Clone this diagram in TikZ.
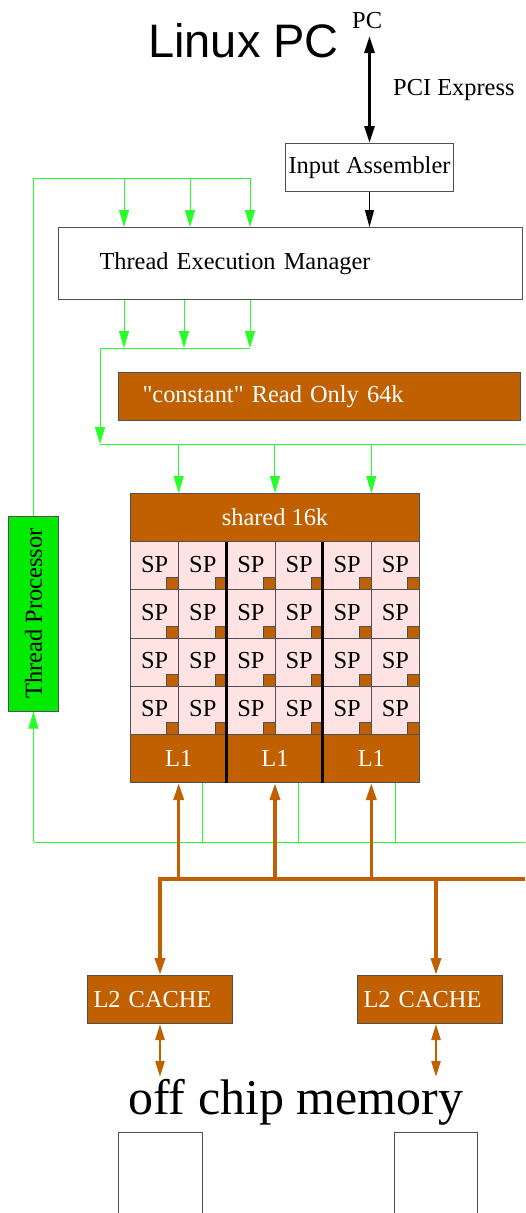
\documentclass[tikz,border=0pt]{standalone}
\usepackage{fontspec}
\setmainfont{Liberation Serif}
\newfontfamily\linuxsans{Liberation Sans}
\newfontfamily\rawserif{Liberation Serif}
\usetikzlibrary{arrows.meta,calc}
\definecolor{orng}{RGB}{192,96,0}
\definecolor{grn}{RGB}{40,255,40}
\definecolor{tpgreen}{RGB}{0,235,0}
\definecolor{spink}{RGB}{255,226,226}
\definecolor{bord}{RGB}{80,80,80}
\begin{document}
\begin{tikzpicture}[x=1pt,y=-1pt,
  txt/.style={font=\fontsize{24.4}{28}\selectfont},
  tlabel/.style={txt,inner sep=0pt,anchor=base west},
  box/.style={draw=bord,line width=1pt,inner sep=0pt,txt},
  obox/.style={box,fill=orng,text=white},
  gline/.style={draw=grn,line width=1pt},
  garrow/.style={gline,-{Triangle[length=17pt,width=10pt]}},
  oline/.style={draw=orng,line width=3.5pt},
  oarrow/.style={oline,-{Triangle[length=17pt,width=10pt]}},
  odarrow/.style={draw=orng,line width=2.5pt,{Triangle[length=16pt,width=9pt]}-{Triangle[length=16pt,width=9pt]}},
  karrow/.style={draw=black,line width=1pt,-{Triangle[length=17pt,width=9pt]}},
  kdarrow/.style={draw=black,line width=3pt,{Triangle[length=17pt,width=10pt]}-{Triangle[length=17pt,width=10pt]}},
  spcell/.style={box,fill=spink,minimum width=48.17pt,minimum height=48.25pt},
  spsq/.style={draw=bord,line width=0.8pt,fill=orng,minimum size=12pt,inner sep=0pt},
]
\useasboundingbox (0,0) rectangle (525,1213);

% titles
\node[font=\linuxsans\fontsize{47}{50}\selectfont,inner sep=0pt,anchor=base west] (linux) at (148,57) {Linux PC};
\node[tlabel] (pc) at (352,28) {PC};
\node[tlabel] (pcie) at (393,95) {PCI Express};

% boxes
\node[box,minimum width=168pt,minimum height=48pt,anchor=north west] (ia) at (285,143) {Input Assembler};
\node[box,minimum width=464pt,minimum height=72pt,anchor=north west,text width=382pt,align=left] (tem) at (58,227) {Thread Execution Manager};
\node[obox,minimum width=402pt,minimum height=48pt,anchor=north west,text width=354pt,align=left] (const) at (118,372) {{\rawserif"}constant{\rawserif"} Read Only 64k};
\node[box,fill=tpgreen,rotate=90,minimum width=195pt,minimum height=50pt] (tp) at (33.5,613.5) {Thread Processor};
\node[obox,minimum width=289pt,minimum height=48pt,anchor=north west] (shared) at (130,493) {shared 16k};

% SP grid
\foreach \g in {0,1,2} {
  \pgfmathsetmacro\gx{130+\g*96.33}
  \node[obox,minimum width=96.33pt,minimum height=48pt,anchor=north west] (l1-\g) at (\gx,734) {L1};
  \foreach \c in {0,1} {
    \foreach \r in {0,1,2,3} {
      \pgfmathsetmacro\cx{\gx+\c*48.17}
      \pgfmathsetmacro\cy{541+\r*48.25}
      \node[spcell,anchor=north west] (sp-\g-\c-\r) at (\cx,\cy) {\raisebox{3pt}{SP}};
      \node[spsq,anchor=south east] (sq-\g-\c-\r) at (sp-\g-\c-\r.south east) {};
    }
  }
}
\draw[line width=3pt] (l1-1.south west) -- (l1-1.south west |- shared.south);
\draw[line width=3pt] (l1-2.south west) -- (l1-2.south west |- shared.south);

% L2 caches and memory
\node[obox,minimum width=145pt,minimum height=48pt,anchor=north west,text width=133pt,align=left] (l2a) at (87,975) {L2 CACHE};
\node[obox,minimum width=145pt,minimum height=48pt,anchor=north west,text width=133pt,align=left] (l2b) at (357,975) {L2 CACHE};
\node[font=\fontsize{50}{55}\selectfont,inner sep=0pt,anchor=base west] (ocm) at (128,1114) {off chip memory};
\node[box,minimum width=84pt,minimum height=100pt,anchor=north west] (mem1) at (118,1132) {};
\node[box,minimum width=83pt,minimum height=100pt,anchor=north west] (mem2) at (394,1132) {};

% black connectors
\coordinate (pctop) at (369,36);
\draw[kdarrow] (ia.north |- pctop) -- (ia.north);
\draw[karrow] (ia.south) -- (ia.south |- tem.north);

% green top
\coordinate (gtop) at (250,178);
\draw[gline] (tp.east) -- (tp.east |- gtop) -- (gtop);
\foreach \x in {124,190,250} {
  \coordinate (gt\x) at (\x,178);
  \draw[garrow] (gt\x) -- (gt\x |- tem.north);
}
% green mid
\foreach \x in {124,184,250} {
  \coordinate (gm\x) at (\x,348);
  \draw[garrow] (gm\x |- tem.south) -- (gm\x);
}
\coordinate (gmid) at (100,348);
\coordinate (gbus) at (100,444);
\coordinate (gbusr) at (525,444);
\draw[gline] (gm250) -- (gmid);
\draw[garrow] (gmid) -- (gbus);
\draw[gline] (gbus) -- (gbusr);
\foreach \g in {0,1,2} {
  \draw[garrow] (l1-\g |- gbus) -- (l1-\g |- shared.north);
}
% green bottom
\coordinate (gbot) at (33.5,842);
\coordinate (gbotr) at (525,842);
\foreach \g in {0,1,2} {
  \coordinate (gl\g) at ($(l1-\g.south)+(24,0)$);
  \draw[gline] (gl\g) -- (gl\g |- gbot);
}
\draw[gline] (gbotr) -- (gbot);
\draw[garrow] (gbot) -- (tp.west);

% orange bus
\coordinate (obus) at (160,879);
\coordinate (obusr) at (525,879);
\coordinate (obus2) at (436,879);
\draw[oarrow] (obusr) -- (obus) -- (obus |- l2a.north);
\draw[oarrow] (obus2) -- (obus2 |- l2b.north);
\foreach \g in {0,1,2} {
  \draw[oarrow] (l1-\g |- obus) -- (l1-\g.south);
}
\coordinate (m1) at (160,1077);
\coordinate (m2) at (436,1077);
\draw[odarrow] (m1 |- l2a.south) -- (m1);
\draw[odarrow] (m2 |- l2b.south) -- (m2);
\end{tikzpicture}
\end{document}
